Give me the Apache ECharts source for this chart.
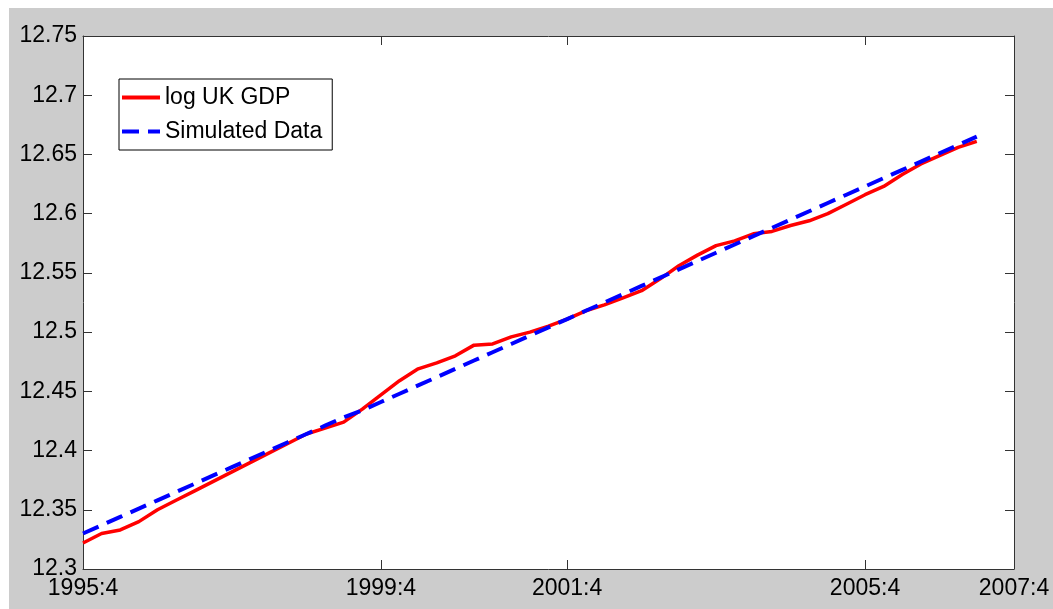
<!DOCTYPE html>
<html>
<head>
<meta charset="utf-8">
<script src="https://cdn.jsdelivr.net/npm/echarts@6/dist/echarts.min.js"></script>
<style>
  html, body { margin: 0; padding: 0; background: #fff; }
  #bg { position: absolute; left: 9px; top: 8px; width: 1044px; height: 601px; background: #cccccc; }
  #chart { position: absolute; left: 0; top: 0; width: 1053px; height: 609px; }
</style>
</head>
<body>
<div id="bg"></div>
<div id="chart"></div>
<script>
// 横轴刻度位置与标签
const xTickPos = [0, 16, 26, 42, 50];
const xTickLabels = ['1995:4', '1999:4', '2001:4', '2005:4', '2007:4'];
const xCount = 51; // 轴上的位置 0..50

// log UK GDP
const ukGdp = [
  12.322, 12.330, 12.333, 12.340, 12.350, 12.358, 12.366, 12.374, 12.382, 12.390,
  12.398, 12.406, 12.414, 12.419, 12.424, 12.435, 12.447, 12.459, 12.469, 12.474,
  12.480, 12.489, 12.490, 12.496, 12.500, 12.505, 12.511, 12.518, 12.523, 12.529,
  12.535, 12.545, 12.556, 12.565, 12.573, 12.577, 12.583, 12.585, 12.590, 12.594,
  12.600, 12.608, 12.616, 12.623, 12.633, 12.642, 12.649, 12.656, 12.661
];

// Simulated Data
const simData = [
  12.330, 12.337, 12.344, 12.351, 12.358, 12.365, 12.372, 12.379, 12.386, 12.393,
  12.400, 12.407, 12.414, 12.421, 12.428, 12.434, 12.441, 12.448, 12.455, 12.462,
  12.469, 12.476, 12.483, 12.490, 12.497, 12.504, 12.511, 12.518, 12.525, 12.532,
  12.539, 12.546, 12.553, 12.560, 12.567, 12.574, 12.581, 12.588, 12.595, 12.602,
  12.609, 12.616, 12.623, 12.630, 12.637, 12.644, 12.651, 12.658, 12.665
];

const yMin = 12.3, yMax = 12.75, yStep = 0.05;

const categories = [];
for (let i = 0; i < xCount; i++) categories.push(String(i));

const font = 'Liberation Sans, Arial, Helvetica, sans-serif';
const axisColor = '#333';
const isTick = idx => xTickPos.indexOf(idx) >= 0;

// 图例线样（实线 / 虚线）
const solidIcon = 'path://M0,0h38v4h-38z';
const dashIcon = 'path://M0,0h17v4h-17z M26,0h12v4h-12z';

const chart = echarts.init(document.getElementById('chart'));
chart.setOption({
  animation: false,
  backgroundColor: 'transparent',
  textStyle: { fontFamily: font },
  grid: {
    left: 83, right: 39, top: 36, bottom: 40,
    show: true, backgroundColor: '#fff', borderWidth: 0
  },
  legend: {
    left: 119, top: 79,
    orient: 'vertical',
    backgroundColor: '#fff',
    borderColor: '#000', borderWidth: 1,
    padding: [7, 10, 7, 3],
    itemWidth: 38, itemHeight: 4, itemGap: 11,
    textStyle: { fontSize: 23, lineHeight: 22, color: '#000', fontFamily: font },
    data: [
      { name: 'log UK GDP', icon: solidIcon },
      { name: 'Simulated Data', icon: dashIcon }
    ]
  },
  xAxis: [{
    type: 'category',
    data: categories,
    boundaryGap: false,
    axisLine: { lineStyle: { color: axisColor, width: 1 } },
    axisTick: { inside: true, length: 9, interval: isTick, lineStyle: { color: axisColor } },
    axisLabel: {
      interval: isTick, margin: 8, fontSize: 23, color: '#000', fontFamily: font,
      formatter: (v, idx) => xTickLabels[xTickPos.indexOf(idx)] || ''
    },
    splitLine: { show: false }
  }, {
    type: 'category',
    data: categories,
    boundaryGap: false,
    position: 'top',
    axisLine: { lineStyle: { color: axisColor, width: 1 } },
    axisTick: { inside: true, length: 9, interval: isTick, lineStyle: { color: axisColor } },
    axisLabel: { show: false },
    splitLine: { show: false }
  }],
  yAxis: [{
    type: 'value',
    min: yMin, max: yMax, interval: yStep,
    axisLine: { show: true, lineStyle: { color: axisColor, width: 1 } },
    axisTick: { show: true, inside: true, length: 9, lineStyle: { color: axisColor } },
    axisLabel: {
      margin: 6, fontSize: 23, color: '#000', fontFamily: font,
      formatter: v => String(+v.toFixed(2))
    },
    splitLine: { show: false }
  }, {
    type: 'value',
    position: 'right',
    min: yMin, max: yMax, interval: yStep,
    axisLine: { show: true, lineStyle: { color: axisColor, width: 1 } },
    axisTick: { show: true, inside: true, length: 9, lineStyle: { color: axisColor } },
    axisLabel: { show: false },
    splitLine: { show: false }
  }],
  series: [{
    name: 'log UK GDP',
    type: 'line',
    data: ukGdp,
    symbol: 'none',
    showSymbol: false,
    color: '#ff0000',
    lineStyle: { color: '#ff0000', width: 3.5 }
  }, {
    name: 'Simulated Data',
    type: 'line',
    data: simData,
    symbol: 'none',
    showSymbol: false,
    color: '#0000ff',
    lineStyle: { color: '#0000ff', width: 4, type: [17, 9] }
  }]
});
</script>
</body>
</html>
